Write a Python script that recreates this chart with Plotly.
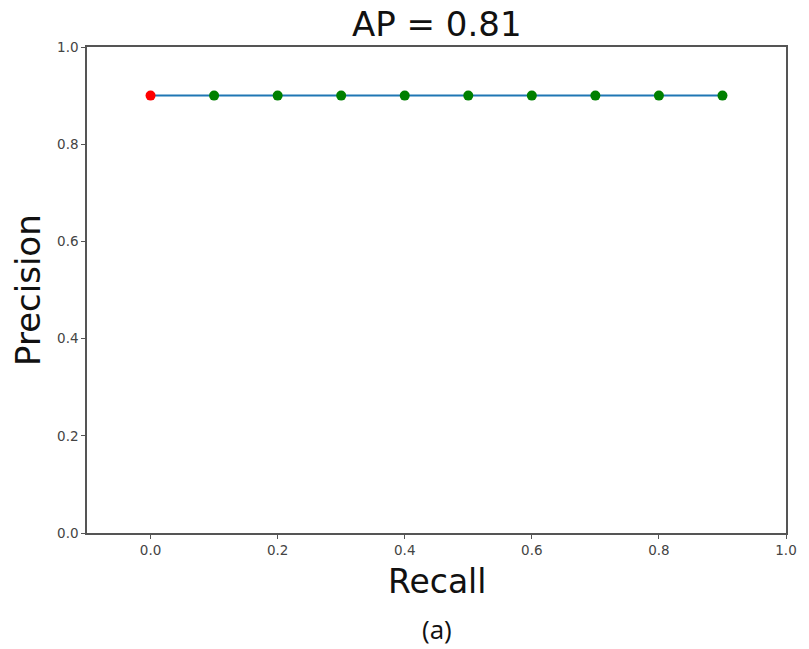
import plotly.graph_objects as go

recall = [0.0, 0.1, 0.2, 0.3, 0.4, 0.5, 0.6, 0.7, 0.8, 0.9]
precision = [0.9, 0.9, 0.9, 0.9, 0.9, 0.9, 0.9, 0.9, 0.9, 0.9]
point_colors = ["red", "green", "green", "green", "green", "green", "green", "green", "green", "green"]
xticks = [0.0, 0.2, 0.4, 0.6, 0.8, 1.0]
yticks = [0.0, 0.2, 0.4, 0.6, 0.8, 1.0]

fig = go.Figure()
fig.add_trace(go.Scatter(x=recall, y=precision, mode="lines",
                         line=dict(color="#1f77b4", width=2), showlegend=False))
fig.add_trace(go.Scatter(x=recall, y=precision, mode="markers",
                         marker=dict(color=point_colors, size=10), showlegend=False))

axis_common = dict(showgrid=False, zeroline=False, showline=True, linecolor="#555",
                   linewidth=1.5, mirror=True, ticks="outside", ticklen=4, tickcolor="#555",
                   tickfont=dict(family="DejaVu Sans", size=13.5, color="#444"))
fig.update_xaxes(range=[-0.1, 1.0], tickvals=xticks, ticktext=[f"{v:.1f}" for v in xticks], **axis_common)
fig.update_yaxes(range=[0.0, 1.0], tickvals=yticks, ticktext=[f"{v:.1f}" for v in yticks], **axis_common)

fig.update_layout(
    width=809, height=649,
    margin=dict(l=87, r=15, t=47, b=116),
    plot_bgcolor="white", paper_bgcolor="white",
    annotations=[
        dict(text="AP = 0.81", x=0.5, y=1, xref="paper", yref="paper", xanchor="center",
             yanchor="middle", yshift=23, showarrow=False,
             font=dict(family="DejaVu Sans", size=34, color="#111")),
        dict(text="Recall", x=0.5, y=0, xref="paper", yref="paper", xanchor="center",
             yanchor="middle", yshift=-48, showarrow=False,
             font=dict(family="DejaVu Sans", size=33, color="#111")),
        dict(text="Precision", x=0, y=0.5, xref="paper", yref="paper", xanchor="center",
             yanchor="middle", xshift=-59, textangle=-90, showarrow=False,
             font=dict(family="DejaVu Sans", size=34, color="#111")),
        dict(text="(a)", x=0.5, y=0, xref="paper", yref="paper", xanchor="center",
             yanchor="middle", yshift=-96, showarrow=False,
             font=dict(family="Open Sans", size=26, color="#111")),
    ],
)

fig.write_html("out.html")
